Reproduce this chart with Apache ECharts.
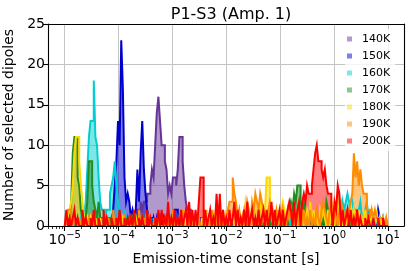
<!DOCTYPE html>
<html><head><meta charset="utf-8">
<script src="https://cdn.jsdelivr.net/npm/echarts@6/dist/echarts.min.js"></script>
<style>html,body{margin:0;padding:0;background:#fff}#c{width:412px;height:271px}</style>
</head><body><div id="c"></div>
<script>
// Histogram bins: log10(emission-time constant / s)
const binStart = -5;
const binWidth = 0.03;

const temperatures = ['140K', '150K', '160K', '170K', '180K', '190K', '200K'];

const counts140 = [
  0,0,0,0,0,0,0,0,0,0,0,0,0,0,0,0,0,0,0,0,
  0,0,0,0,0,0,0,0,0,0,0,0,0,0,0,0,0,0,1,0,
  0,0,0,1,0,2,2,3,2,3,3,4,4,5,7,6,10,14,16,13,
  10,10,8,7,4,5,4,6,6,5,7,11,11,8,5,3,2,2,1,1,
  0,1,0,0,1,1,0,0,0,0,0,0,0,0,0,0,0,1,0,0,
  0,0,0,0,1,0,0,0,1,0,0,0,0,0,0,0,0,0,0,0,
  0,0,0,0,0,0,0,1,0,0,0,1,0,0,0,0,0,0,0,0,
  0,0,1,0,0,0,0,0,0,0,1,0,0,0,0,0,0,0,0,0,
  0,0,0,0,0,1,0,0,0,0,0,1,0,0,1,0,0,0,0,0,
  0,0,0,0,0,0,1,0,0,0,0,0,0,0,0,0,0,0,0,0
];
const counts150 = [
  0,0,1,0,0,0,0,1,0,0,0,0,1,0,0,0,0,1,0,0,
  0,0,0,0,1,0,1,0,1,1,2,5,8,13,10,23,17,6,3,4,
  3,1,2,1,2,7,3,9,13,7,4,2,1,1,0,1,0,1,0,1,
  0,1,0,1,0,0,0,1,2,2,1,0,0,1,0,1,0,0,1,0,
  0,0,1,0,0,0,1,0,0,0,0,1,0,0,0,1,0,0,0,0,
  0,0,0,1,0,0,0,0,0,0,1,0,0,0,0,0,0,1,0,0,
  0,0,0,0,0,0,0,0,0,0,1,0,0,0,0,0,0,1,0,0,
  0,0,0,1,0,0,0,0,1,0,0,0,1,0,0,1,0,0,0,0,
  1,0,0,0,0,1,1,0,0,0,0,0,1,0,0,0,1,0,1,0,
  0,0,0,0,1,0,0,0,2,0,1,0,0,0,2,1,0,1,0,0
];
const counts160 = [
  0,0,0,1,0,1,0,0,1,0,1,0,1,3,7,11,13,13,18,11,
  10,6,3,2,2,1,2,2,4,5,6,8,5,3,2,1,1,2,1,1,
  0,0,1,0,1,0,1,0,1,0,1,0,0,0,0,1,0,0,1,0,
  0,0,1,0,0,0,1,0,0,0,1,0,0,0,0,0,0,1,0,0,
  0,0,0,0,0,0,0,0,1,0,0,0,0,0,0,1,0,0,0,0,
  0,1,0,0,0,0,0,0,0,0,1,0,0,0,0,0,1,0,0,0,
  0,0,0,0,0,1,0,0,0,0,0,0,0,1,0,0,0,0,0,0,
  1,0,0,0,0,1,0,0,0,0,1,0,0,1,0,0,0,0,1,0,
  0,1,0,1,0,0,1,0,2,0,2,0,3,2,3,4,3,2,3,2,
  2,1,2,3,1,0,2,3,1,0,1,1,0,1,0,0,1,0,0,0
];
const counts170 = [
  0,0,0,1,3,9,11,11,6,5,2,1,0,1,3,8,8,5,3,2,
  1,3,1,1,1,0,1,1,0,1,0,0,1,0,0,1,0,0,1,0,
  1,0,1,0,1,0,1,1,0,1,0,0,1,0,0,0,0,1,0,0,
  0,0,0,1,0,0,1,0,0,0,0,0,1,0,0,0,0,0,0,1,
  0,0,0,0,0,0,0,0,1,0,0,0,0,1,0,0,0,0,0,0,
  1,0,0,0,0,0,1,0,0,0,0,1,0,1,0,0,0,0,1,0,
  0,0,0,0,1,0,0,0,1,0,1,0,0,0,1,1,0,0,1,2,
  3,2,4,3,5,5,3,2,3,1,2,0,1,1,0,1,0,0,2,0,
  1,0,3,2,0,1,0,1,0,0,1,0,1,0,1,0,1,0,0,0,
  1,0,0,0,0,1,0,0,0,1,0,0,0,0,0,0,0,0,0,0
];
const counts180 = [
  0,0,1,2,3,5,9,11,11,8,5,3,1,0,1,0,1,0,0,1,
  0,0,1,0,0,0,1,0,0,0,1,0,0,0,0,0,1,0,0,0,
  0,0,0,0,1,0,0,0,0,0,0,0,1,0,0,0,0,1,0,0,
  0,0,1,0,0,0,0,0,1,0,0,0,0,0,2,0,1,0,0,1,
  0,0,1,0,0,1,0,0,2,0,1,0,2,0,1,0,2,0,1,0,
  2,0,1,0,2,0,1,0,2,0,1,0,3,2,0,1,0,2,2,2,
  2,4,2,1,2,6,6,2,1,2,1,1,2,1,2,3,2,1,2,1,
  2,1,0,2,0,1,0,2,0,1,2,0,3,0,2,0,1,0,2,1,
  2,1,0,2,0,3,2,0,2,3,0,2,0,1,0,2,0,3,0,2,
  1,0,2,0,1,0,2,0,1,0,2,1,0,2,0,1,0,1,0,1
];
const counts190 = [
  0,1,2,2,1,0,1,0,0,1,0,1,0,1,0,1,0,0,1,0,
  0,1,0,0,1,0,0,1,0,0,2,0,0,1,0,0,0,1,0,0,
  0,1,0,1,0,0,2,0,0,1,0,0,0,1,0,0,1,0,1,0,
  0,1,0,0,0,1,0,2,0,0,1,0,0,2,0,0,1,0,1,0,
  0,1,0,1,0,0,2,0,0,1,0,2,0,1,0,2,1,0,2,0,
  1,2,3,3,6,4,3,1,2,0,1,2,0,3,2,0,3,2,4,3,
  2,4,3,2,1,0,2,3,2,0,1,2,0,1,0,2,1,0,2,1,
  2,0,1,0,2,0,1,0,2,0,1,0,2,0,1,0,2,1,0,2,
  3,2,1,0,2,3,0,2,1,0,2,3,2,1,2,2,2,3,4,9,
  6,8,5,7,5,4,4,2,2,1,2,1,2,1,1,1,1,1,0,1
];
const counts200 = [
  0,2,0,1,0,1,2,0,1,0,0,2,0,1,0,0,1,0,2,0,
  0,1,0,0,2,0,1,0,0,1,0,0,1,0,2,0,0,1,0,1,
  0,1,0,2,0,0,1,0,1,0,0,2,0,1,0,0,1,0,2,0,
  2,0,1,0,3,0,1,0,2,0,1,0,2,0,1,2,0,3,0,2,
  0,2,0,3,6,6,0,2,0,1,2,0,1,0,4,0,4,0,2,0,
  1,0,2,0,1,3,0,2,0,1,0,2,0,3,0,1,2,0,1,0,
  2,0,1,2,0,2,0,1,3,0,2,0,1,2,0,2,0,1,2,3,
  2,0,3,0,2,3,0,3,4,3,5,4,4,5,7,9,10,8,8,7,
  6,7,5,4,4,2,0,3,2,5,4,0,2,0,1,2,0,2,0,1,
  0,2,0,1,0,0,1,0,1,0,0,1,0,0,1,0,0,1,0,0
];

const xTickExponents = [-5, -4, -3, -2, -1, 0, 1];
const yTickValues = [0, 5, 10, 15, 20, 25];

const titleText = 'P1-S3 (Amp. 1)';
const xAxisTitle = 'Emission-time constant [s]';
const yAxisTitle = 'Number of selected dipoles';

// ---- styling / construction ----
const FONT = 'DejaVu Sans';
const allCounts = [counts140, counts150, counts160, counts170, counts180, counts190, counts200];
const edgeColors = ['#663399', '#0000cd', '#00ced1', '#228b22', '#ffd700', '#ff8c00', '#ff0000'];
function withAlpha(hex, a) {
  const r = parseInt(hex.slice(1,3),16), g = parseInt(hex.slice(3,5),16), b = parseInt(hex.slice(5,7),16);
  return 'rgba(' + r + ',' + g + ',' + b + ',' + a + ')';
}
const fillColors = edgeColors.map(c => withAlpha(c, 0.5));

// explicit step outline: each bin contributes its left and right edge at its count
function stepData(counts) {
  const pts = [[binStart, 0]];
  counts.forEach((c, i) => {
    pts.push([binStart + i * binWidth, c]);
    pts.push([binStart + (i + 1) * binWidth, c]);
  });
  pts.push([binStart + counts.length * binWidth, 0]);
  return pts;
}

const xMin = -5.31, xMax = 1.30;
const minorTicks = [];
for (let n = -6; n <= 1; n++) {
  for (let k = 2; k <= 9; k++) {
    const v = n + Math.log10(k);
    if (v > xMin && v < xMax) minorTicks.push(v);
  }
}

const fillSeries = temperatures.map((t, i) => ({
  name: t, type: 'line', data: stepData(allCounts[i]),
  xAxisIndex: 0, yAxisIndex: 0,
  symbol: 'none', showSymbol: false, silent: true, animation: false,
  lineStyle: { width: 0, opacity: 0 },
  areaStyle: { color: fillColors[i], opacity: 1 },
  itemStyle: { color: fillColors[i] },
  z: 2
}));
const edgeSeries = temperatures.map((t, i) => ({
  name: t + ' edge', type: 'line', data: stepData(allCounts[i]),
  xAxisIndex: 0, yAxisIndex: 0,
  symbol: 'none', showSymbol: false, silent: true, animation: false,
  lineStyle: { width: 2, color: edgeColors[i], join: 'miter', cap: 'butt' },
  itemStyle: { color: edgeColors[i] },
  z: 3
}));

const xBase = { type: 'value', min: xMin, max: xMax, gridIndex: 0 };
const blackLine = { color: '#000', width: 1.1 };
const gridColor = '#c4c4c4';

const option = {
  animation: false,
  backgroundColor: '#fff',
  title: {
    text: titleText, left: 226, top: 2, textAlign: 'center',
    textStyle: { fontFamily: FONT, fontSize: 16, fontWeight: 'normal', color: '#000' }
  },
  legend: {
    orient: 'vertical', left: 345, top: 29, padding: [4, 5, 4, 2],
    itemWidth: 15, itemHeight: 5, itemGap: 5,
    icon: 'path://M0,0L6,0L6,6L0,6Z',
    selectedMode: false,
    backgroundColor: 'rgba(255,255,255,0.8)', borderWidth: 0, borderRadius: 3,
    textStyle: { fontFamily: FONT, fontSize: 11, color: '#000', lineHeight: 12 },
    data: temperatures.map((t, i) => ({ name: t, itemStyle: { color: fillColors[i] } })),
    z: 20
  },
  grid: { left: 48, right: 8, top: 24, bottom: 45, containLabel: false, outerBoundsMode: 'none' },
  xAxis: [
    Object.assign({}, xBase, {
      position: 'bottom', z: 10,
      name: xAxisTitle, nameLocation: 'middle', nameGap: 18,
      nameTextStyle: { fontFamily: FONT, fontSize: 14, color: '#000' },
      axisLine: { show: true, onZero: false, lineStyle: blackLine },
      axisTick: { show: true, inside: false, length: 5, customValues: xTickExponents, lineStyle: blackLine },
      axisLabel: {
        customValues: xTickExponents, margin: 4,
        formatter: v => '{b|10}{s|' + String(Math.round(v)).replace('-', '\u2212') + '}',
        rich: {
          b: { fontFamily: FONT, fontSize: 14, color: '#000', lineHeight: 17, verticalAlign: 'bottom' },
          s: { fontFamily: FONT, fontSize: 10, color: '#000', lineHeight: 10, verticalAlign: 'top' }
        }
      },
      splitLine: { show: false }
    }),
    Object.assign({}, xBase, {
      position: 'bottom', z: 10,
      axisLine: { show: false, onZero: false },
      axisTick: { show: true, inside: false, length: 3, customValues: minorTicks, lineStyle: { color: '#000', width: 0.8 } },
      axisLabel: { show: false },
      splitLine: { show: false }
    }),
    Object.assign({}, xBase, {
      position: 'top', z: 10,
      axisLine: { show: true, onZero: false, lineStyle: blackLine },
      axisTick: { show: false }, axisLabel: { show: false }, splitLine: { show: false }
    }),
    Object.assign({}, xBase, {
      position: 'bottom', z: 0,
      axisLine: { show: false, onZero: false },
      axisTick: { show: false, customValues: xTickExponents },
      axisLabel: { show: false, customValues: xTickExponents },
      splitLine: { show: true, lineStyle: { color: gridColor, width: 1 } }
    })
  ],
  yAxis: [
    {
      type: 'value', min: 0, max: 25, interval: 5, position: 'left', z: 10,
      name: yAxisTitle, nameLocation: 'middle', nameGap: 27, nameRotate: 90,
      nameTextStyle: { fontFamily: FONT, fontSize: 14, color: '#000' },
      axisLine: { show: true, onZero: false, lineStyle: blackLine },
      axisTick: { show: true, inside: false, length: 5, customValues: yTickValues, lineStyle: blackLine },
      axisLabel: { customValues: yTickValues, margin: 3, fontFamily: FONT, fontSize: 14, color: '#000' },
      splitLine: { show: false }
    },
    {
      type: 'value', min: 0, max: 25, interval: 5, position: 'right', z: 10,
      axisLine: { show: true, onZero: false, lineStyle: blackLine },
      axisTick: { show: false }, axisLabel: { show: false }, splitLine: { show: false }
    },
    {
      type: 'value', min: 0, max: 25, interval: 5, position: 'left', z: 0,
      axisLine: { show: false, onZero: false },
      axisTick: { show: false }, axisLabel: { show: false },
      splitLine: { show: true, lineStyle: { color: gridColor, width: 1 } }
    }
  ],
  series: fillSeries.concat(edgeSeries)
};

const chart = echarts.init(document.getElementById('c'), null, { renderer: 'canvas' });
chart.setOption(option);
</script>
</body></html>
